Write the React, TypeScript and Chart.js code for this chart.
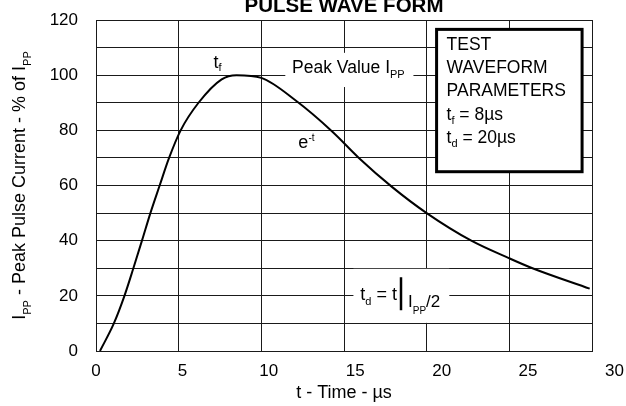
import { useEffect, useRef } from 'react';
import { Chart, registerables } from 'chart.js';

Chart.register(...registerables);

// ---- data (gridline crossings of the curve) ----
const timeUs = [0.24, 1.08, 1.72, 2.26, 2.78, 3.29, 3.85, 4.42, 5.12, 6.2, 7.6, 8.5, 10.0, 12.1, 14.3, 15.9, 17.9, 20.0, 22.7, 25.0, 26.4, 29.86];
const currentPct = [0, 10, 20, 30, 40, 50, 60, 70, 80, 90, 98.5, 100, 99, 90.7, 79.5, 70, 59.5, 50, 40, 33.6, 30, 22.6];
const xTickLabels = [0, 5, 10, 15, 20, 25, 30];
const yLabelStep = 20;
const xLabelSpan = 28.7; // label axis is printed slightly wider than the grid in the original

const FONT = '"Liberation Sans", Arial, Helvetica, sans-serif';
const INK = '#000';
const GRID = '#1a1a1a';

type Run = { text: string; size: number; dy?: number; bold?: boolean };

function runsWidth(ctx: CanvasRenderingContext2D, runs: Run[]) {
  let w = 0;
  for (const r of runs) {
    ctx.font = `${r.bold ? 'bold ' : ''}${r.size}px ${FONT}`;
    w += ctx.measureText(r.text).width;
  }
  return w;
}

function drawRuns(ctx: CanvasRenderingContext2D, runs: Run[], x: number, y: number) {
  let cx = x;
  ctx.textAlign = 'left';
  ctx.textBaseline = 'alphabetic';
  for (const r of runs) {
    ctx.font = `${r.bold ? 'bold ' : ''}${r.size}px ${FONT}`;
    ctx.fillText(r.text, cx, y + (r.dy || 0));
    cx += ctx.measureText(r.text).width;
  }
  return cx;
}

const annotations = {
  id: 'waveAnnotations',
  beforeDatasetsDraw(chart: any) {
    const { ctx, scales } = chart;
    const X = (v: number) => scales.x.getPixelForValue(v);
    const Y = (v: number) => scales.y.getPixelForValue(v);
    ctx.save();

    // white backgrounds that break the grid under labels
    ctx.fillStyle = '#fff';
    ctx.fillRect(X(11.45), Y(108.1), X(19.2) - X(11.45), Y(95.7) - Y(108.1));
    ctx.fillRect(X(15.57), Y(29.8), X(21.37) - X(15.57), Y(10.2) - Y(29.8));

    // parameter box
    const bx0 = X(20.6), bx1 = X(29.4), by0 = Y(116.6), by1 = Y(65);
    ctx.fillRect(bx0, by0, bx1 - bx0, by1 - by0);
    ctx.strokeStyle = INK;
    ctx.lineWidth = 3;
    ctx.strokeRect(bx0, by0, bx1 - bx0, by1 - by0);

    ctx.fillStyle = INK;
    const bs = 17.5;
    const lines: Run[][] = [
      [{ text: 'TEST', size: bs }],
      [{ text: 'WAVEFORM', size: bs }],
      [{ text: 'PARAMETERS', size: bs }],
      [{ text: 't', size: bs }, { text: 'f', size: 11, dy: 4 }, { text: ' = 8µs', size: bs }],
      [{ text: 't', size: bs }, { text: 'd', size: 11, dy: 4 }, { text: ' = 20µs', size: bs }],
    ];
    lines.forEach((ln, i) => drawRuns(ctx, ln, bx0 + 10, by0 + 20.5 + i * 23.3));

    // t_f
    drawRuns(ctx, [{ text: 't', size: 18 }, { text: 'f', size: 11, dy: 3 }], X(7.1), Y(102.6));
    // Peak value
    drawRuns(ctx, [{ text: 'Peak Value I', size: 17.5 }, { text: 'PP', size: 11, dy: 5 }], X(11.86), Y(100.7));
    // e^-t
    drawRuns(ctx, [{ text: 'e', size: 18 }, { text: '-t', size: 10, dy: -7 }], X(12.24), Y(73.5));

    // t_d = t | Ipp/2
    const ty = Y(18.4);
    const endX = drawRuns(ctx, [{ text: 't', size: 18 }, { text: 'd', size: 11, dy: 5 }, { text: ' = t', size: 18 }], X(15.99), ty);
    const barX = endX + 4;
    ctx.lineWidth = 2.5;
    ctx.beginPath();
    ctx.moveTo(barX, ty - 23);
    ctx.lineTo(barX, ty + 10);
    ctx.stroke();
    drawRuns(ctx, [{ text: 'I', size: 17, dy: 7 }, { text: 'PP', size: 10, dy: 14 }, { text: '/2', size: 17, dy: 7 }], barX + 7, ty);

    ctx.restore();
  },
  afterDraw(chart: any) {
    const { ctx, chartArea } = chart;
    ctx.save();
    ctx.fillStyle = INK;
    // title (partly clipped at the top, as in the original)
    ctx.font = `bold 20.5px ${FONT}`;
    ctx.textAlign = 'center';
    ctx.textBaseline = 'alphabetic';
    ctx.fillText('PULSE WAVE FORM', (chartArea.left + chartArea.right) / 2, 12.3);

    // y axis title with subscripts
    const runs: Run[] = [
      { text: 'I', size: 18 },
      { text: 'PP', size: 11, dy: 6 },
      { text: ' - Peak Pulse Current - % of I', size: 18 },
      { text: 'PP', size: 11, dy: 6 },
    ];
    const w = runsWidth(ctx, runs);
    const cy = (chartArea.top + chartArea.bottom) / 2;
    ctx.translate(25, cy);
    ctx.rotate(-Math.PI / 2);
    drawRuns(ctx, runs, -w / 2, 0);
    ctx.restore();
  },
};

export default function App() {
  const ref = useRef<HTMLCanvasElement>(null);
  useEffect(() => {
    const canvas = ref.current;
    if (!canvas) return;
    const chart = new Chart(canvas, {
      type: 'line',
      data: {
        datasets: [
          {
            data: timeUs.map((t, i) => ({ x: t, y: currentPct[i] })),
            borderColor: INK,
            borderWidth: 2,
            pointRadius: 0,
            fill: false,
            cubicInterpolationMode: 'monotone',
            xAxisID: 'x',
            yAxisID: 'y',
          },
        ],
      },
      options: {
        responsive: false,
        animation: false,
        devicePixelRatio: 1,
        layout: { padding: { top: 20, right: 34, bottom: 0, left: 0 } },
        plugins: { legend: { display: false }, tooltip: { enabled: false }, title: { display: false } },
        scales: {
          x: {
            type: 'linear',
            position: 'bottom',
            weight: 0,
            min: 0,
            max: 30,
            ticks: { display: false, stepSize: 5 },
            grid: { color: GRID, lineWidth: 1, drawTicks: false },
            border: { color: GRID, width: 1 },
            afterFit: (s: any) => {
              s.height = 0;
              s.paddingLeft = 0;
              s.paddingRight = 0;
            },
          },
          x2: {
            type: 'linear',
            position: 'bottom',
            weight: 1,
            min: 0,
            max: xLabelSpan,
            grid: { display: false, drawTicks: false },
            border: { display: false },
            ticks: {
              color: INK,
              font: { family: FONT, size: 17 },
              padding: 10,
              autoSkip: false,
              maxRotation: 0,
            },
            afterBuildTicks: (s: any) => {
              s.ticks = xTickLabels.map((v) => ({ value: v }));
            },
            title: {
              display: true,
              text: 't - Time - µs',
              color: INK,
              font: { family: FONT, size: 18 },
              padding: { top: 0, bottom: 2 },
            },
            afterFit: (s: any) => {
              s.height = 55;
              s.paddingLeft = 0;
              s.paddingRight = 0;
            },
          },
          y: {
            type: 'linear',
            min: 0,
            max: 120,
            ticks: {
              stepSize: 10,
              color: INK,
              font: { family: FONT, size: 17 },
              padding: 18,
              callback: (v: any) => (Number(v) % yLabelStep === 0 ? String(v) : ''),
            },
            grid: { color: GRID, lineWidth: 1, drawTicks: false },
            border: { color: GRID, width: 1 },
            afterFit: (s: any) => {
              s.width = 96;
              s.paddingTop = 0;
              s.paddingBottom = 0;
            },
          },
        },
      } as any,
      plugins: [annotations],
    });
    return () => chart.destroy();
  }, []);
  return (
    <div style={{ position: 'absolute', left: 0, top: 0, width: 626, height: 406 }}>
      <canvas ref={ref} width={626} height={406} style={{ width: 626, height: 406, display: 'block' }} />
    </div>
  );
}
